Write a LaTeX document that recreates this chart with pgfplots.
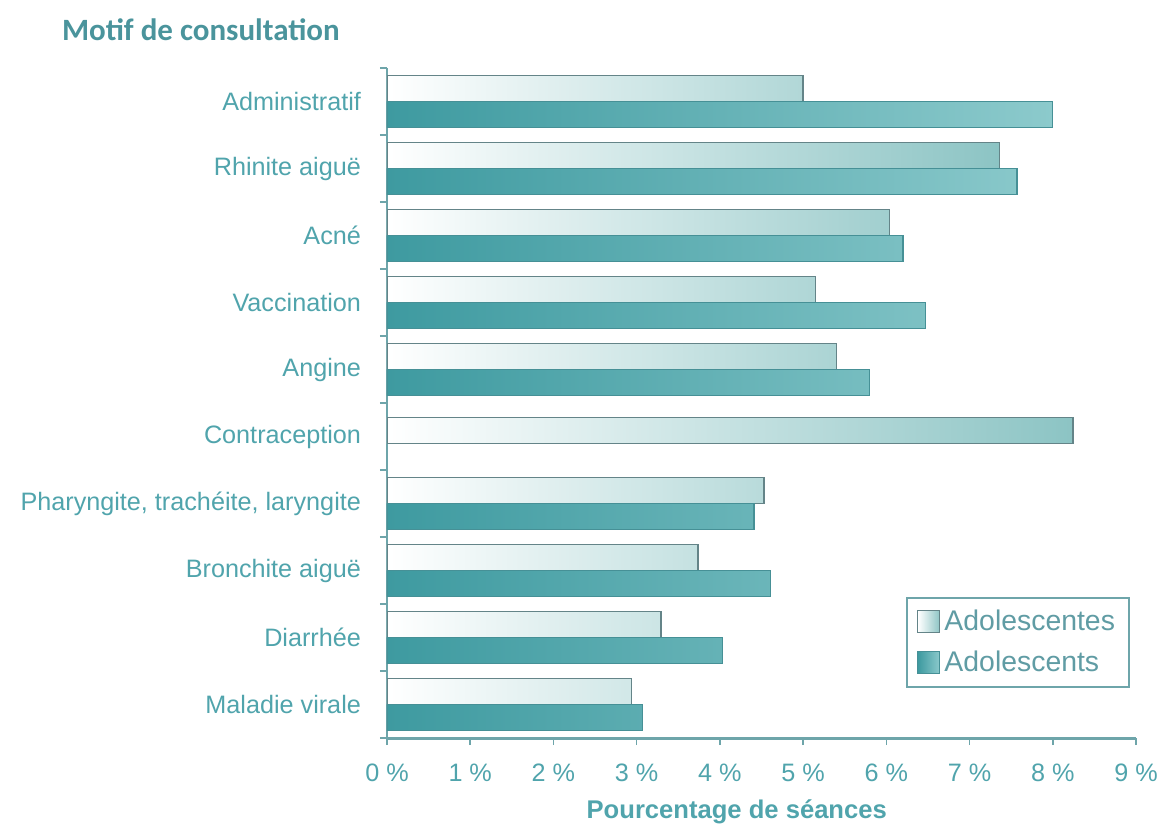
\documentclass[border=0pt]{standalone}
\usepackage{pgfplots}
\pgfplotsset{compat=1.18}
\usepackage{fontspec}
\setmainfont{Liberation Sans}
\newfontfamily\titlefont{Carlito}

\definecolor{txtclr}{RGB}{80,164,172}
\definecolor{legtxt}{RGB}{96,156,164}
\definecolor{titleclr}{RGB}{74,148,156}
\definecolor{axisclr}{RGB}{110,165,170}
\definecolor{girlsR}{RGB}{140,196,196}
\definecolor{girlsEdge}{RGB}{100,132,136}
\definecolor{boysL}{RGB}{62,154,160}
\definecolor{boysR}{RGB}{140,202,204}
\definecolor{boysEdge}{RGB}{70,144,150}

\begin{document}
\begin{tikzpicture}
\useasboundingbox (-193.5pt,-44pt) rectangle (388.5pt,369pt);
\begin{axis}[
    at={(0,0)}, anchor=south west,
    scale only axis, width=374.5pt, height=335pt,
    xmin=0, xmax=9, ymin=-0.5, ymax=9.5,
    bar width=0.39,
    axis x line*=bottom, axis y line*=left,
    x axis line style={draw=axisclr, line width=1.5pt},
    y axis line style={draw=axisclr, line width=1pt},
    tick align=outside,
    xtick={0,...,9},
    xticklabels={0 \%,1 \%,2 \%,3 \%,4 \%,5 \%,6 \%,7 \%,8 \%,9 \%},
    ytick={0,...,9},
    yticklabels={Maladie virale,Diarrhée,Bronchite aiguë,{Pharyngite, trachéite, laryngite},Contraception,Angine,Vaccination,Acné,Rhinite aiguë,Administratif},
    minor ytick={-0.5,0.5,...,9.5},
    major tick length=3.5pt, minor tick length=3.5pt,
    ytick style={draw=none},
    minor y tick style={draw=axisclr, line width=0.8pt},
    xtick style={draw=axisclr, line width=0.8pt},
    tick label style={font=\fontsize{12.6}{15}\selectfont, text=txtclr},
    yticklabel style={xshift=-6pt},
    xticklabel style={yshift=-6pt},
    xlabel={Pourcentage de séances},
    xlabel style={at={(axis description cs:0.467,0)}, anchor=center, yshift=-37pt,
        font=\fontsize{12.8}{15}\selectfont\bfseries, text=txtclr},
    legend style={at={(0.992,0.075)}, anchor=south east, draw=axisclr, line width=1pt,
        font=\fontsize{14.2}{16}\selectfont, text=legtxt, row sep=5pt,
        inner xsep=5pt, inner ysep=4pt},
    legend cell align=left,
    legend image code/.code={\draw[#1, line width=0.5pt] (1pt,-5.5pt) rectangle (12pt,5.5pt);},
]
% Adolescentes (filles)
\addplot[xbar, bar shift=0.195, draw=girlsEdge, line width=0.8pt,
    left color=white, right color=girlsR] coordinates {
    (5.00,9) (7.36,8) (6.04,7) (5.15,6) (5.40,5)
    (4.53,3) (3.74,2) (3.29,1) (2.94,0)
};
\addlegendentry{Adolescentes}
% Adolescents (garcons)
\addplot[xbar, bar shift=-0.195, draw=boysEdge, line width=0.6pt,
    left color=boysL, right color=boysR] coordinates {
    (8.00,9) (7.57,8) (6.20,7) (6.47,6) (5.80,5)
    (4.41,3) (4.61,2) (4.03,1) (3.07,0)
};
\addlegendentry{Adolescents}
% Contraception : filles seulement
\addplot[xbar, bar shift=0.09, draw=girlsEdge, line width=0.8pt,
    left color=white, right color=girlsR, forget plot] coordinates {
    (8.24,4)
};
\end{axis}
\node[anchor=west, font=\titlefont\bfseries\fontsize{15.5}{18}\selectfont, text=titleclr]
    at (-166pt,354pt) {Motif de consultation};
\end{tikzpicture}
\end{document}
